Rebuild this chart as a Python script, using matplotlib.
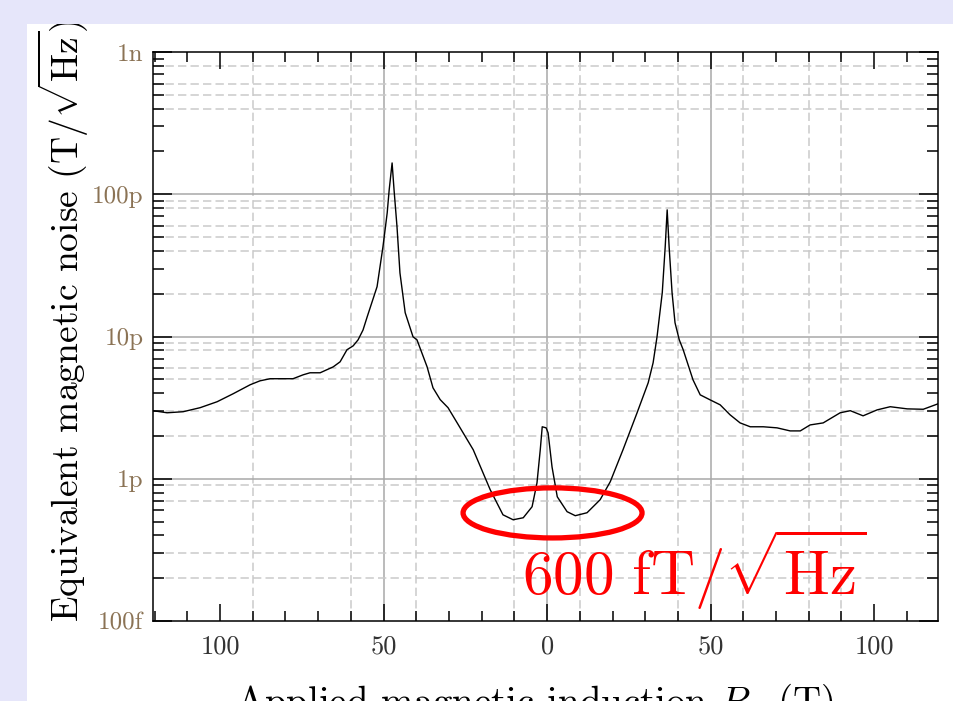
import matplotlib
matplotlib.use("Agg")
import matplotlib.pyplot as plt
from matplotlib.patches import Ellipse, Rectangle
from matplotlib.ticker import FixedLocator, MultipleLocator, LogLocator, NullFormatter
from matplotlib.transforms import Bbox, TransformedBbox


# Noise curve (field in T, noise in pT/sqrt(Hz))
field = [
    -120.5, -116.2, -111.3, -106.1, -100.9, -96.0, -90.8, -87.8, -84.7, -80.7,
    -77.7, -74.6, -72.5, -69.4, -65.4, -63.3, -61.2, -59.3, -57.8, -56.3,
    -55.0, -52.0, -50.2, -48.9, -48.3, -47.4, -46.8, -45.9, -45.0, -43.4,
    -41.0, -39.8, -36.7, -34.9, -32.7, -30.3, -27.5, -22.6, -17.4, -13.5,
    -10.4, -7.3, -4.6, -3.1, -2.1, -1.5, -0.3, 0.3, 1.5, 3.1,
    6.1, 8.6, 12.2, 16.2, 19.3, 23.2, 27.5, 30.9, 32.4, 33.6,
    35.2, 36.1, 36.7, 37.3, 38.2, 39.1, 40.4, 41.6, 44.6, 46.8,
    49.8, 52.9, 55.9, 59.0, 62.1, 66.1, 70.3, 74.3, 77.4, 80.4,
    84.4, 89.6, 92.7, 96.6, 100.9, 104.9, 110.1, 115.0, 119.6,
]
noise_pT = [
    3.01, 2.91, 2.96, 3.16, 3.48, 3.96, 4.58, 4.88, 5.05, 5.05,
    5.05, 5.38, 5.56, 5.56, 6.12, 6.64, 8.07, 8.6, 9.48, 11.1,
    13.8, 22.4, 42.7, 74.0, 107.0, 166.0, 107.0, 59.0, 28.0, 14.7,
    9.95, 9.48, 6.12, 4.36, 3.6, 3.16, 2.47, 1.60, 0.837, 0.558,
    0.515, 0.532, 0.636, 0.937, 1.60, 2.32, 2.28, 2.10, 1.21, 0.747,
    0.587, 0.550, 0.577, 0.712, 0.953, 1.60, 2.91, 4.73, 6.53, 9.95,
    20.3, 42.7, 77.7, 42.7, 20.3, 12.5, 9.48, 8.07, 4.96, 3.89,
    3.59, 3.31, 2.82, 2.47, 2.32, 2.32, 2.28, 2.17, 2.17, 2.39,
    2.47, 2.91, 3.01, 2.77, 3.05, 3.21, 3.10, 3.08, 3.37,
]
noise = [v * 1e-12 for v in noise_pT]

# Axis ticks and labels
x_major = [-100, -50, 0, 50, 100]
x_labels = ["100", "50", "0", "50", "100"]
y_major = [1e-13, 1e-12, 1e-11, 1e-10, 1e-9]
y_labels = ["100f", "1p", "10p", "100p", "1n"]

# Grid lines as they appear in the original export
x_grid_solid = [-50, 0, 50]
x_grid_dashed = [-90, -60, -40, -10, 10, 40, 60, 80, 90]
y_grid_solid = [1e-12, 1e-11, 1e-10]
y_grid_dashed = (
    [m * 1e-10 for m in (8, 6, 5, 4)]
    + [m * 1e-11 for m in (9, 8, 6, 5, 4, 2)]
    + [m * 1e-12 for m in (9, 8, 6, 5, 3, 2)]
    + [m * 1e-13 for m in (9, 7, 3, 2)]
)

annotation = r"$600\ \mathrm{fT}/\sqrt{\mathrm{Hz}}$"


plt.rcParams["font.family"] = "cmr10"
plt.rcParams["mathtext.fontset"] = "cm"
plt.rcParams["axes.formatter.use_mathtext"] = True
plt.rcParams["lines.scale_dashes"] = False

fig = plt.figure(figsize=(9.54, 7.01), dpi=100, facecolor="#e6e6fa")

# White panel behind the chart
panel = Rectangle(
    (27 / 954, 0), 1 - 27 / 954, 1 - 24 / 701,
    transform=fig.transFigure, facecolor="white", edgecolor="none", zorder=-1
)
fig.patches.append(panel)

ax = fig.add_axes([0.1604, 0.1141, 0.8228, 0.8117])
ax.set_facecolor("white")

ax.set_yscale("log")
ax.set_xlim(-120.5, 119.5)
ax.set_ylim(1e-13, 1e-9)

# Grid
for gx in x_grid_solid:
    ax.axvline(gx, color="#a8a8a8", lw=1.1, zorder=1)
for gx in x_grid_dashed:
    ax.axvline(gx, color="#cacaca", lw=1.1, dashes=(6, 3), zorder=1)
for gy in y_grid_solid:
    ax.axhline(gy, color="#a8a8a8", lw=1.1, zorder=1)
for gy in y_grid_dashed:
    ax.axhline(gy, color="#cacaca", lw=1.1, dashes=(6, 3), zorder=1)

# Curve
ax.plot(field, noise, color="black", lw=1.0, zorder=3)

# Ticks
ax.xaxis.set_major_locator(FixedLocator(x_major))
ax.set_xticklabels(x_labels)
ax.xaxis.set_minor_locator(MultipleLocator(10))
ax.yaxis.set_major_locator(FixedLocator(y_major))
ax.set_yticklabels(y_labels)
ax.yaxis.set_minor_locator(LogLocator(base=10, subs=range(2, 10), numticks=20))
ax.yaxis.set_minor_formatter(NullFormatter())

ax.tick_params(axis="both", which="both", direction="in",
               top=True, right=True, width=1.1, color="black")
ax.tick_params(axis="x", which="major", length=12, pad=10,
               labelsize=19, labelcolor="#333333")
ax.tick_params(axis="x", which="minor", length=7)
ax.tick_params(axis="y", which="major", length=13.5, pad=7,
               labelsize=18, labelcolor="#8b7355")
ax.tick_params(axis="y", which="minor", length=8)

for spine in ax.spines.values():
    spine.set_linewidth(1.1)
    spine.set_color("black")
    spine.set_zorder(5)

# Red highlight
ellipse = Ellipse(
    (0.509, 0.19), 0.228, 0.088,
    transform=ax.transAxes, fill=False, edgecolor="red", lw=3.8, zorder=4
)
ax.add_patch(ellipse)

ax.text(0.47, 0.046, annotation, transform=ax.transAxes,
        color="red", fontsize=44, ha="left", va="baseline", zorder=6)

# Axis titles
ylab = fig.text(0.0665, 0.1127,
                r"Equivalent magnetic noise $(\mathrm{T}/\sqrt{\mathrm{Hz}})$",
                rotation=90, ha="center", va="bottom", fontsize=27, color="black")
ylab.set_clip_box(TransformedBbox(
    Bbox.from_extents(27 / 954, 0, 1, 1 - 24 / 701), fig.transFigure))

fig.text(0.56, -0.0185, r"Applied magnetic induction $B_z$ (T)",
         ha="center", va="baseline", fontsize=28, color="black")

fig.savefig("out.png", dpi=100, facecolor=fig.get_facecolor())
